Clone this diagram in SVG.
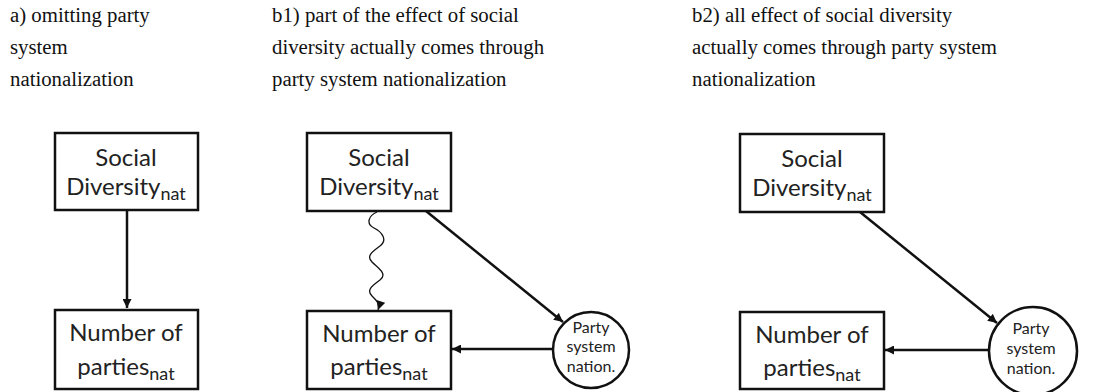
<svg xmlns="http://www.w3.org/2000/svg" width="1100" height="392" viewBox="0 0 1100 392">
<style>
.hdr{font-family:"Liberation Serif","Times New Roman",serif;font-size:20.8px;fill:#111}
.box{fill:#fff;stroke:#111;stroke-width:2.5}
.circ{fill:#fff;stroke:#111;stroke-width:2.5}
.lbl{font-family:Lato,"Liberation Sans",sans-serif;font-size:24px;fill:#222;text-anchor:middle}
.sub{font-size:18px}
.clbl{font-family:Lato,"Liberation Sans",sans-serif;font-size:16px;fill:#222;text-anchor:middle}
.edge{fill:none;stroke:#111;stroke-width:2.5}
.wavy{fill:none;stroke:#111;stroke-width:1.3}
</style>
<defs>
<marker id="ah" viewBox="0 0 10 10" refX="10" refY="5" markerWidth="10" markerHeight="9" markerUnits="userSpaceOnUse" orient="auto">
<path d="M0,0 L10,5 L0,10 Z" fill="#111"/>
</marker>
</defs>
<rect width="1100" height="392" fill="#fff"/>
<g id="headers">
<text class="hdr" x="10" y="22">a) omitting party</text>
<text class="hdr" x="10" y="54">system</text>
<text class="hdr" x="10" y="86">nationalization</text>
<text class="hdr" x="272" y="22">b1) part of the effect of social</text>
<text class="hdr" x="272" y="54">diversity actually comes through</text>
<text class="hdr" x="272" y="86">party system nationalization</text>
<text class="hdr" x="692" y="22">b2) all effect of social diversity</text>
<text class="hdr" x="692" y="54">actually comes through party system</text>
<text class="hdr" x="692" y="86">nationalization</text>
</g>
<g id="connectors">
<line class="edge" x1="127" y1="210" x2="127" y2="308" marker-end="url(#ah)"/>
<path class="wavy" d="M377,212 C368,216 366,224 374,228 S388,240 380,246 S366,256 372,262 S388,274 380,280 S366,290 372,296 S380,304 378,310" marker-end="url(#ah)"/>
<line class="edge" x1="426" y1="211" x2="563" y2="322" marker-end="url(#ah)"/>
<line class="edge" x1="553" y1="349" x2="452" y2="349" marker-end="url(#ah)"/>
<line class="edge" x1="860" y1="212" x2="997" y2="323" marker-end="url(#ah)"/>
<line class="edge" x1="989" y1="350" x2="885" y2="350" marker-end="url(#ah)"/>
</g>
<g id="a_social">
<rect class="box" x="55" y="133" width="143" height="77"/>
<text class="lbl" x="126" y="166">Social</text>
<text class="lbl" x="126" y="195">Diversity<tspan class="sub" dy="5">nat</tspan></text>
</g>
<g id="a_parties">
<rect class="box" x="55" y="310" width="143" height="79"/>
<text class="lbl" x="126" y="341">Number of</text>
<text class="lbl" x="126" y="375">parties<tspan class="sub" dy="5">nat</tspan></text>
</g>
<g id="b1_social">
<rect class="box" x="307" y="133" width="144" height="78"/>
<text class="lbl" x="379" y="166">Social</text>
<text class="lbl" x="379" y="195">Diversity<tspan class="sub" dy="5">nat</tspan></text>
</g>
<g id="b1_parties">
<rect class="box" x="307" y="311" width="144" height="78"/>
<text class="lbl" x="379" y="342">Number of</text>
<text class="lbl" x="379" y="375">parties<tspan class="sub" dy="5">nat</tspan></text>
</g>
<g id="b1_party_system">
<circle class="circ" cx="591" cy="350" r="38"/>
<text class="clbl" x="591" y="333">Party</text>
<text class="clbl" x="591" y="352">system</text>
<text class="clbl" x="591" y="372">nation.</text>
</g>
<g id="b2_social">
<rect class="box" x="740" y="134" width="144" height="78"/>
<text class="lbl" x="812" y="167">Social</text>
<text class="lbl" x="812" y="196">Diversity<tspan class="sub" dy="5">nat</tspan></text>
</g>
<g id="b2_parties">
<rect class="box" x="740" y="312" width="144" height="77"/>
<text class="lbl" x="812" y="343">Number of</text>
<text class="lbl" x="812" y="376">parties<tspan class="sub" dy="5">nat</tspan></text>
</g>
<g id="b2_party_system">
<circle class="circ" cx="1033" cy="351" r="44"/>
<text class="clbl" x="1031" y="334">Party</text>
<text class="clbl" x="1031" y="354">system</text>
<text class="clbl" x="1031" y="374">nation.</text>
</g>
</svg>
